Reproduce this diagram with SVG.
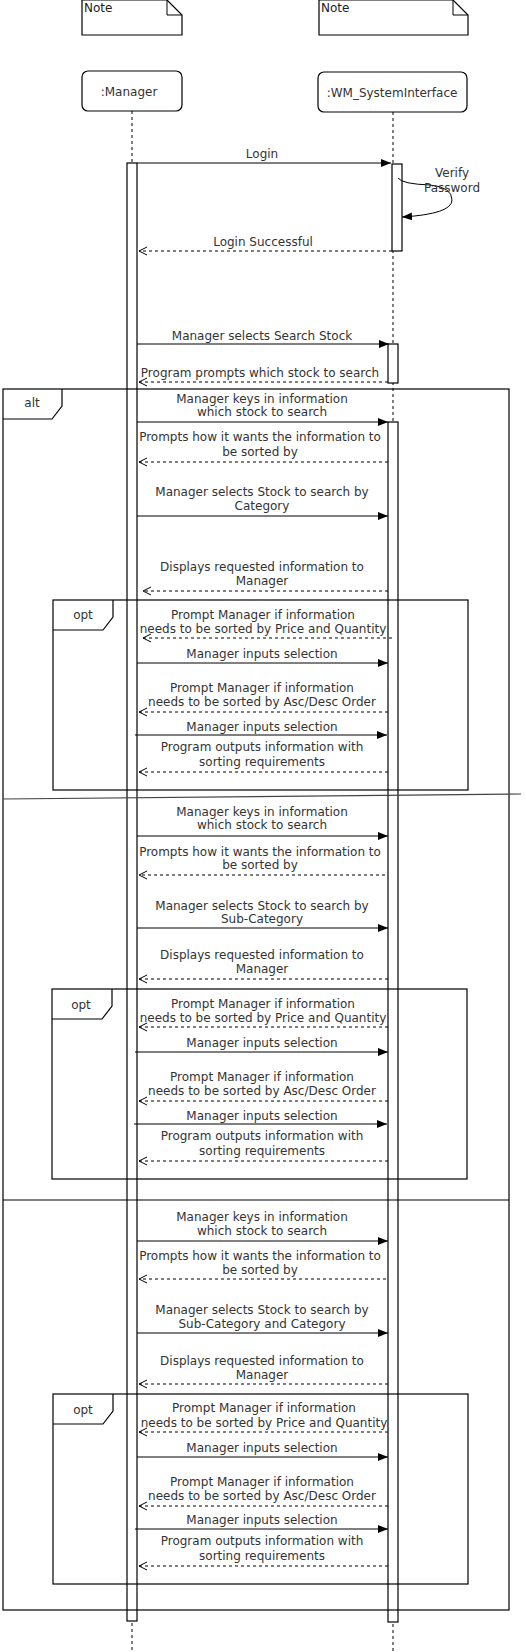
<svg xmlns="http://www.w3.org/2000/svg" width="526" height="1652" viewBox="0 0 526 1652">
<style>
text{font-family:"DejaVu Sans",Verdana,sans-serif;font-size:12px;fill:#333;text-anchor:middle}
.l{text-anchor:start;fill:#222}
.box{fill:#fff;stroke:#000;stroke-width:1.2}
.life{stroke:#000;stroke-width:1;stroke-dasharray:3,3;fill:none}
.act{fill:#fff;stroke:#000;stroke-width:1.2}
.frame{fill:none;stroke:#000;stroke-width:1.2}
.sync{stroke:#000;stroke-width:1;fill:none;marker-end:url(#fa)}
.ret{stroke:#000;stroke-width:1;stroke-dasharray:3,3;fill:none;marker-end:url(#oa)}
</style>
<defs>
<marker id="fa" viewBox="0 0 10 10" refX="10" refY="5" markerWidth="10" markerHeight="10" markerUnits="userSpaceOnUse" orient="auto"><path d="M0,1 L10,5 L0,9 z" fill="#000"/></marker>
<marker id="oa" viewBox="0 0 10 10" refX="9" refY="5" markerWidth="10" markerHeight="10" markerUnits="userSpaceOnUse" orient="auto"><path d="M1,1 L9,5 L1,9" fill="none" stroke="#000" stroke-width="1"/></marker>
</defs>
<rect width="526" height="1652" fill="#fff"/>

<g id="note1">
<path class="box" d="M82,0 L167,0 L182,15 L182,35 L82,35 Z"/>
<path d="M167,0 L167,15 L182,15" fill="none" stroke="#000" stroke-width="1"/>
<text class="l" x="84" y="12">Note</text>
</g>
<g id="note2">
<path class="box" d="M319,0 L453,0 L468,15 L468,35 L319,35 Z"/>
<path d="M453,0 L453,15 L468,15" fill="none" stroke="#000" stroke-width="1"/>
<text class="l" x="321" y="12">Note</text>
</g>

<g id="manager">
<line class="life" x1="132" y1="111" x2="132" y2="1652"/>
<rect class="box" x="82" y="71" width="100" height="40" rx="6"/>
<text x="129" y="96">:Manager</text>
<rect class="act" x="127" y="163" width="10" height="1458"/>
</g>
<g id="wm">
<line class="life" x1="393" y1="112" x2="393" y2="1652"/>
<rect class="box" x="318" y="72" width="149" height="40" rx="6"/>
<text x="392" y="97">:WM_SystemInterface</text>
<rect class="act" x="392" y="164" width="10" height="87"/>
<rect class="act" x="388" y="344" width="10" height="39"/>
<rect class="act" x="388" y="422" width="10" height="1200"/>
</g>

<g id="frames">
<rect class="frame" x="3" y="389" width="506" height="1221"/>
<path class="frame" d="M3,419 L52,419 L62,406 L62,389"/>
<text x="32" y="407">alt</text>
<line x1="3" y1="799" x2="521" y2="794" stroke="#444" stroke-width="1.2"/>
<line x1="3" y1="1200" x2="509" y2="1200" stroke="#000" stroke-width="1.2"/>

<rect class="frame" x="53" y="600" width="415" height="190"/>
<path class="frame" d="M53,630 L103,630 L113,617 L113,600"/>
<text x="83" y="619">opt</text>

<rect class="frame" x="52" y="989" width="415" height="190"/>
<path class="frame" d="M52,1019 L102,1019 L112,1006 L112,989"/>
<text x="81" y="1009">opt</text>

<rect class="frame" x="53" y="1394" width="415" height="190"/>
<path class="frame" d="M53,1424 L103,1424 L113,1411 L113,1394"/>
<text x="83" y="1414">opt</text>
</g>

<g id="connectors">
<line class="sync" x1="137" y1="163" x2="391" y2="163"/>
<path class="sync" d="M398,178 Q402,184 430,185 Q452,187 452,200 Q452,214 402,217"/>
<line class="ret" x1="392" y1="251" x2="139" y2="251"/>
<line class="sync" x1="137" y1="344" x2="389" y2="344"/>
<line class="ret" x1="388" y1="382" x2="139" y2="382"/>

<line class="sync" x1="137" y1="422" x2="388" y2="422"/>
<line class="ret" x1="388" y1="462" x2="139" y2="462"/>
<line class="sync" x1="137" y1="516" x2="388" y2="516"/>
<line class="ret" x1="388" y1="591" x2="143" y2="591"/>
<line class="ret" x1="392" y1="638" x2="143" y2="638"/>
<line class="sync" x1="137" y1="663" x2="388" y2="663"/>
<line class="ret" x1="388" y1="712" x2="139" y2="712"/>
<line class="sync" x1="135" y1="735" x2="387" y2="735"/>
<line class="ret" x1="388" y1="772" x2="139" y2="772"/>

<line class="sync" x1="137" y1="836" x2="388" y2="836"/>
<line class="ret" x1="385" y1="875" x2="139" y2="875"/>
<line class="sync" x1="137" y1="928" x2="388" y2="928"/>
<line class="ret" x1="388" y1="979" x2="139" y2="979"/>
<line class="ret" x1="388" y1="1027" x2="139" y2="1027"/>
<line class="sync" x1="135" y1="1052" x2="388" y2="1052"/>
<line class="ret" x1="388" y1="1101" x2="139" y2="1101"/>
<line class="sync" x1="134" y1="1124" x2="387" y2="1124"/>
<line class="ret" x1="388" y1="1161" x2="139" y2="1161"/>

<line class="sync" x1="137" y1="1241" x2="388" y2="1241"/>
<line class="ret" x1="386" y1="1279" x2="139" y2="1279"/>
<line class="sync" x1="137" y1="1333" x2="388" y2="1333"/>
<line class="ret" x1="388" y1="1384" x2="139" y2="1384"/>
<line class="ret" x1="388" y1="1432" x2="139" y2="1432"/>
<line class="sync" x1="137" y1="1457" x2="388" y2="1457"/>
<line class="ret" x1="388" y1="1506" x2="139" y2="1506"/>
<line class="sync" x1="135" y1="1529" x2="388" y2="1529"/>
<line class="ret" x1="388" y1="1566" x2="139" y2="1566"/>
</g>

<g id="labels">
<text x="262" y="158">Login</text>
<text x="452" y="177">Verify</text>
<text x="452" y="192">Password</text>
<text x="263" y="246">Login Successful</text>
<text x="262" y="340">Manager selects Search Stock</text>
<text x="260" y="377">Program prompts which stock to search</text>

<text x="262" y="403">Manager keys in information</text>
<text x="262" y="416">which stock to search</text>
<text x="260" y="441">Prompts how it wants the information to</text>
<text x="260" y="456">be sorted by</text>
<text x="262" y="496">Manager selects Stock to search by</text>
<text x="262" y="510">Category</text>
<text x="262" y="571">Displays requested information to</text>
<text x="262" y="585">Manager</text>
<text x="263" y="619">Prompt Manager if information</text>
<text x="263" y="633">needs to be sorted by Price and Quantity</text>
<text x="262" y="658">Manager inputs selection</text>
<text x="262" y="692">Prompt Manager if information</text>
<text x="262" y="706">needs to be sorted by Asc/Desc Order</text>
<text x="262" y="731">Manager inputs selection</text>
<text x="262" y="751">Program outputs information with</text>
<text x="262" y="766">sorting requirements</text>

<text x="262" y="816">Manager keys in information</text>
<text x="262" y="829">which stock to search</text>
<text x="260" y="856">Prompts how it wants the information to</text>
<text x="260" y="869">be sorted by</text>
<text x="262" y="910">Manager selects Stock to search by</text>
<text x="262" y="923">Sub-Category</text>
<text x="262" y="959">Displays requested information to</text>
<text x="262" y="973">Manager</text>
<text x="263" y="1008">Prompt Manager if information</text>
<text x="263" y="1022">needs to be sorted by Price and Quantity</text>
<text x="262" y="1047">Manager inputs selection</text>
<text x="262" y="1081">Prompt Manager if information</text>
<text x="262" y="1095">needs to be sorted by Asc/Desc Order</text>
<text x="262" y="1120">Manager inputs selection</text>
<text x="262" y="1140">Program outputs information with</text>
<text x="262" y="1155">sorting requirements</text>

<text x="262" y="1221">Manager keys in information</text>
<text x="262" y="1235">which stock to search</text>
<text x="260" y="1260">Prompts how it wants the information to</text>
<text x="260" y="1274">be sorted by</text>
<text x="262" y="1314">Manager selects Stock to search by</text>
<text x="262" y="1328">Sub-Category and Category</text>
<text x="262" y="1365">Displays requested information to</text>
<text x="262" y="1379">Manager</text>
<text x="264" y="1412">Prompt Manager if information</text>
<text x="264" y="1427">needs to be sorted by Price and Quantity</text>
<text x="262" y="1452">Manager inputs selection</text>
<text x="262" y="1486">Prompt Manager if information</text>
<text x="262" y="1500">needs to be sorted by Asc/Desc Order</text>
<text x="262" y="1524">Manager inputs selection</text>
<text x="262" y="1545">Program outputs information with</text>
<text x="262" y="1560">sorting requirements</text>
</g>
</svg>
